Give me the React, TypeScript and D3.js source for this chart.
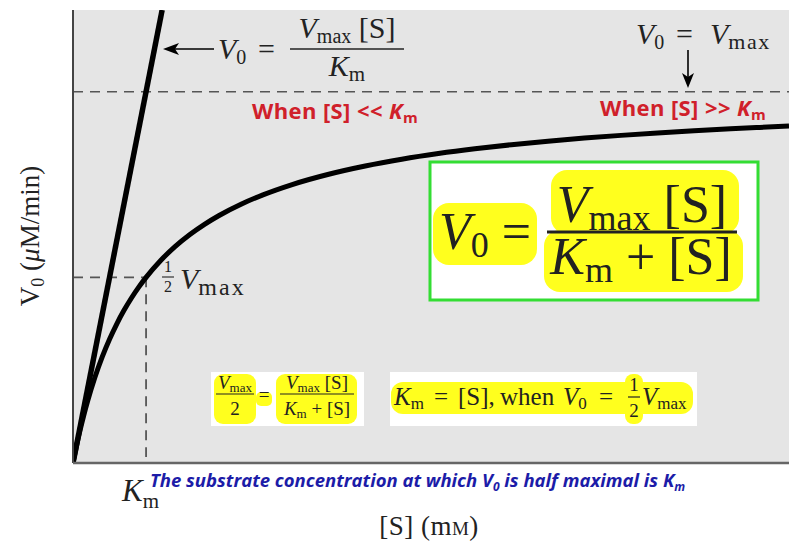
import React from "react";
import * as d3 from "d3";

// Michaelis–Menten parameters (arbitrary units)
const VMAX = [1];
const KM = [1];
// Substrate concentrations sampled for the saturation curve
const S_SAMPLES = [0, 0.02, 0.05, 0.1, 0.15, 0.2, 0.3, 0.4, 0.5, 0.6, 0.7, 0.8, 0.9, 1, 1.2, 1.4, 1.6, 1.8, 2, 2.3, 2.6, 3, 3.5, 4, 4.5, 5, 5.5, 6, 6.5, 7, 7.5, 8, 8.5, 9, 9.4, 9.8];
const AXIS_DOMAIN_X = [0, 9.8];
const AXIS_DOMAIN_Y = [0, 1.22];

const W = 789;
const H = 545;
const M = { left: 73, right: 789, top: 10, bottom: 463 };

const SERIF = "'Liberation Serif', 'DejaVu Serif', serif";
const SANS = "'Open Sans', 'Noto Sans', sans-serif";
const YELLOW = "#ffff1e";
const INK = "#222";

export default function App() {
  const vmax = VMAX[0];
  const km = KM[0];
  const x = d3.scaleLinear().domain(AXIS_DOMAIN_X).range([M.left, M.right]);
  const y = d3.scaleLinear().domain(AXIS_DOMAIN_Y).range([M.bottom, M.top]);

  const mm = (s: number) => (vmax * s) / (km + s);
  const curve = d3
    .line<number>()
    .x((s) => x(s))
    .y((s) => y(mm(s)))
    .curve(d3.curveMonotoneX)(S_SAMPLES) as string;

  // initial-rate line V0 = Vmax[S]/Km, up to the top of the plot
  const sTop = (AXIS_DOMAIN_Y[1] * km) / vmax;
  const initLine = d3.line<number>().x((s) => x(s)).y((s) => y((vmax * s) / km))([0, sTop]) as string;

  const xKm = x(km);
  const yVmax = y(vmax);
  const yHalf = y(vmax / 2);

  return (
    <svg width={W} height={H} style={{ position: "absolute", left: 0, top: 0, background: "#fff" }}>
      <defs>
        <clipPath id="plot">
          <rect x={M.left} y={M.top} width={M.right - M.left} height={M.bottom - M.top} />
        </clipPath>
      </defs>

      {/* plot background */}
      <rect x={M.left} y={M.top} width={M.right - M.left} height={M.bottom - M.top} fill="#e5e5e5" />

      {/* reference dashed lines */}
      <line x1={M.left} x2={M.right} y1={yVmax} y2={yVmax} stroke="#555" strokeWidth={1.6} strokeDasharray="10 7" />
      <line x1={M.left} x2={xKm} y1={yHalf} y2={yHalf} stroke="#555" strokeWidth={1.6} strokeDasharray="10 7" />
      <line x1={xKm} x2={xKm} y1={yHalf} y2={M.bottom - 6} stroke="#444" strokeWidth={1.6} strokeDasharray="10 7" />

      {/* curves */}
      <g clipPath="url(#plot)">
        <path d={initLine} fill="none" stroke="#000" strokeWidth={5.5} />
        <path d={curve} fill="none" stroke="#000" strokeWidth={5} />
      </g>

      {/* axes */}
      <line x1={M.left} x2={M.left} y1={M.top} y2={M.bottom} stroke="#444" strokeWidth={2} />
      <line x1={M.left} x2={M.right} y1={M.bottom} y2={M.bottom} stroke="#666" strokeWidth={2.5} />

      {/* top-left annotation: V0 = Vmax[S]/Km with arrow */}
      <line x1={214} x2={172} y1={49} y2={49} stroke="#000" strokeWidth={1.6} />
      <path d="M163,49 L179,43 L175,49 L179,55 Z" fill="#000" />
      <text y={59} fontFamily={SERIF} fontSize={30} fill={INK}>
        <tspan x={218} fontStyle="italic">V</tspan>
        <tspan fontSize={20} dy={5}>0</tspan>
        <tspan x={258} dy={-5}>=</tspan>
      </text>
      <text x={347} y={38} fontFamily={SERIF} fontSize={30} fill={INK} textAnchor="middle">
        <tspan fontStyle="italic">V</tspan>
        <tspan fontSize={20} dy={5}>max</tspan>
        <tspan dy={-5}> [S]</tspan>
      </text>
      <line x1={290} x2={404} y1={49} y2={49} stroke={INK} strokeWidth={1.6} />
      <text x={347} y={76} fontFamily={SERIF} fontSize={30} fill={INK} textAnchor="middle">
        <tspan fontStyle="italic">K</tspan>
        <tspan fontSize={21} dy={5}>m</tspan>
      </text>

      {/* top-right annotation: V0 = Vmax */}
      <text y={44} fontFamily={SERIF} fontSize={30} fill={INK}>
        <tspan x={636} fontStyle="italic">V</tspan>
        <tspan fontSize={20} dy={5}>0</tspan>
        <tspan x={676} dy={-5}>=</tspan>
        <tspan x={710} fontStyle="italic">V</tspan>
        <tspan fontSize={22} dy={5} letterSpacing={1.5}>max</tspan>
      </text>
      <line x1={688} x2={688} y1={50} y2={80} stroke="#000" strokeWidth={1.6} />
      <path d="M688,88 L682,73 L688,77 L694,73 Z" fill="#000" />

      {/* regime labels */}
      <text x={252} y={119} fontFamily={SANS} fontWeight={700} fontSize={22} fill="#d0202a" letterSpacing={0.4}>
        When [S] {"<<"} <tspan fontStyle="italic">K</tspan>
        <tspan fontSize={15} dy={4}>m</tspan>
      </text>
      <text x={600} y={116} fontFamily={SANS} fontWeight={700} fontSize={22} fill="#d0202a" letterSpacing={0.4}>
        When [S] {">>"} <tspan fontStyle="italic">K</tspan>
        <tspan fontSize={15} dy={4}>m</tspan>
      </text>

      {/* half-maximal label */}
      <text x={168} y={272} fontFamily={SERIF} fontSize={16} fill={INK} textAnchor="middle">1</text>
      <line x1={162} x2={174} y1={277} y2={277} stroke={INK} strokeWidth={1.1} />
      <text x={168} y={292} fontFamily={SERIF} fontSize={16} fill={INK} textAnchor="middle">2</text>
      <text x={180} y={289} fontFamily={SERIF} fontSize={30} fill={INK}>
        <tspan fontStyle="italic">V</tspan>
        <tspan fontSize={24} dy={6} letterSpacing={2}>max</tspan>
      </text>

      {/* boxed Michaelis–Menten equation */}
      <rect x={430} y={162} width={328} height={138} fill="#fff" stroke="#33dd33" strokeWidth={3} />
      <rect x={433} y={203} width={104} height={62} rx={16} fill={YELLOW} />
      <rect x={551} y={170} width={188} height={64} rx={16} fill={YELLOW} />
      <rect x={544} y={230} width={199} height={62} rx={16} fill={YELLOW} />
      <text x={439} y={249} fontFamily={SERIF} fontSize={52} fill={INK}>
        <tspan fontStyle="italic">V</tspan>
        <tspan fontSize={36} dy={8}>0</tspan>
        <tspan dy={-8}> =</tspan>
      </text>
      <text x={642} y={222} fontFamily={SERIF} fontSize={52} fill={INK} textAnchor="middle">
        <tspan fontStyle="italic">V</tspan>
        <tspan fontSize={36} dy={8}>max</tspan>
        <tspan dy={-8}> [S]</tspan>
      </text>
      <line x1={547} x2={737} y1={232} y2={232} stroke={INK} strokeWidth={3} />
      <text x={641} y={274} fontFamily={SERIF} fontSize={52} fill={INK} textAnchor="middle">
        <tspan fontStyle="italic">K</tspan>
        <tspan fontSize={36} dy={8}>m</tspan>
        <tspan dy={-8}> + [S]</tspan>
      </text>

      {/* half-maximal derivation: Vmax/2 = Vmax[S]/(Km+[S]) */}
      <rect x={211} y={372} width={153} height={54} fill="#fff" />
      <rect x={214} y={374} width={42} height={50} rx={9} fill={YELLOW} />
      <rect x={256} y={392} width={16} height={14} rx={5} fill={YELLOW} />
      <rect x={276} y={374} width={81} height={50} rx={9} fill={YELLOW} />
      <text x={235} y={389} fontFamily={SERIF} fontSize={19} fill={INK} textAnchor="middle">
        <tspan fontStyle="italic">V</tspan>
        <tspan fontSize={13} dy={3}>max</tspan>
      </text>
      <line x1={216} x2={254} y1={394} y2={394} stroke={INK} strokeWidth={1.2} />
      <text x={235} y={415} fontFamily={SERIF} fontSize={19} fill={INK} textAnchor="middle">2</text>
      <text x={264} y={401} fontFamily={SERIF} fontSize={19} fill={INK} textAnchor="middle">=</text>
      <text x={317} y={389} fontFamily={SERIF} fontSize={19} fill={INK} textAnchor="middle">
        <tspan fontStyle="italic">V</tspan>
        <tspan fontSize={13} dy={3}>max</tspan>
        <tspan dy={-3}> [S]</tspan>
      </text>
      <line x1={280} x2={354} y1={394} y2={394} stroke={INK} strokeWidth={1.2} />
      <text x={317} y={415} fontFamily={SERIF} fontSize={19} fill={INK} textAnchor="middle">
        <tspan fontStyle="italic">K</tspan>
        <tspan fontSize={13} dy={3}>m</tspan>
        <tspan dy={-3}> + [S]</tspan>
      </text>

      {/* definition of Km */}
      <rect x={390} y={372} width={307} height={54} fill="#fff" />
      <rect x={391} y={382} width={302} height={32} rx={12} fill={YELLOW} />
      <rect x={625} y={374} width={18} height={50} rx={8} fill={YELLOW} />
      <text y={405} fontFamily={SERIF} fontSize={25} fill={INK}>
        <tspan x={394} fontStyle="italic">K</tspan>
        <tspan fontSize={17} dy={4}>m</tspan>
        <tspan x={434} dy={-4}>=</tspan>
        <tspan x={458}>[S],</tspan>
        <tspan x={500}>when</tspan>
        <tspan x={563} fontStyle="italic">V</tspan>
        <tspan fontSize={17} dy={4}>0</tspan>
        <tspan x={599} dy={-4}>=</tspan>
        <tspan x={642} fontStyle="italic">V</tspan>
        <tspan fontSize={17} dy={4}>max</tspan>
      </text>
      <text x={634} y={391} fontFamily={SERIF} fontSize={19} fill={INK} textAnchor="middle">1</text>
      <line x1={628} x2={640} y1={397} y2={397} stroke={INK} strokeWidth={1.2} />
      <text x={634} y={417} fontFamily={SERIF} fontSize={19} fill={INK} textAnchor="middle">2</text>

      {/* Km marker under the axis */}
      <text x={122} y={501} fontFamily={SERIF} fontSize={31} fill={INK}>
        <tspan fontStyle="italic">K</tspan>
        <tspan fontSize={21} dy={7}>m</tspan>
      </text>
      <text x={150} y={487} fontFamily={SANS} fontWeight={700} fontStyle="italic" fontSize={18.5} fill="#1c1ca8">
        The substrate concentration at which V<tspan fontSize={12} dy={4}>0</tspan>
        <tspan dy={-4}> is half maximal is K</tspan>
        <tspan fontSize={12} dy={4}>m</tspan>
      </text>

      {/* axis titles */}
      <text x={429} y={535} fontFamily={SERIF} fontSize={27} fill={INK} textAnchor="middle" letterSpacing={0.5}>
        [S] (m<tspan fontSize={19}>M</tspan>)
      </text>
      <text transform="translate(39,236) rotate(-90)" fontFamily={SERIF} fontSize={27} fill={INK} textAnchor="middle">
        V<tspan fontSize={18} dy={5}>0</tspan>
        <tspan dy={-5}> (</tspan>
        <tspan fontStyle="italic">μ</tspan>
        <tspan>M/min)</tspan>
      </text>
    </svg>
  );
}
